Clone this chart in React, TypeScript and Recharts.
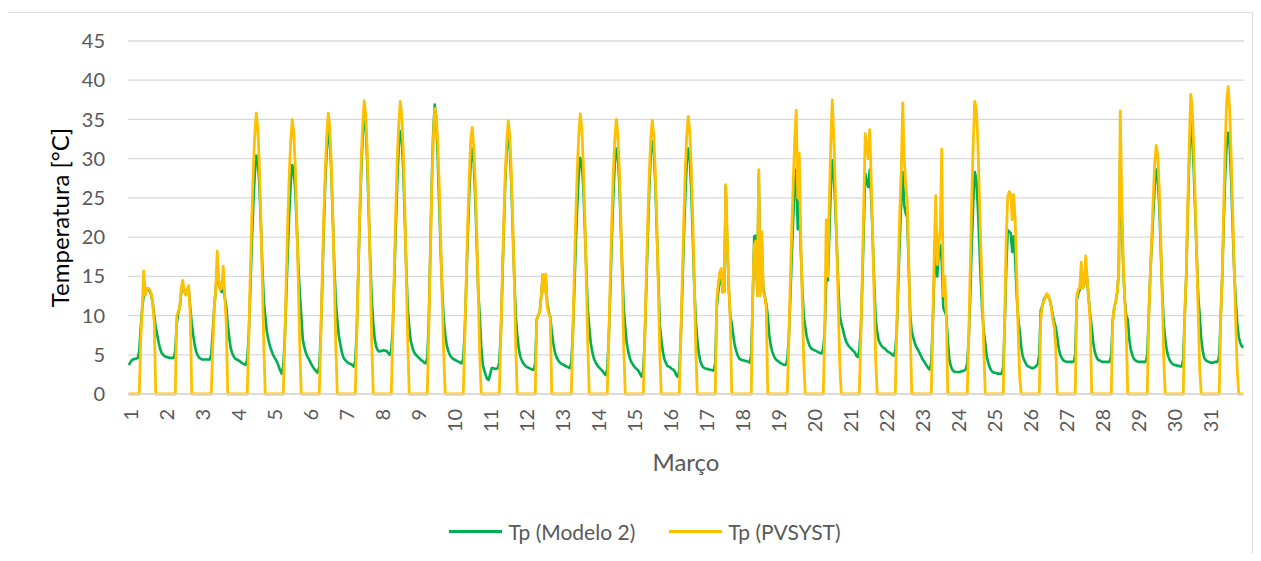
import React from 'react';
import { LineChart, Line, XAxis, YAxis, CartesianGrid, Legend } from 'recharts';

const FONT = 'Lato, "Open Sans", Arial, sans-serif';
const INK = '#595959';
const GRID = '#d9d9d9';
const GREEN = '#00B050';
const GOLD = '#FFC000';

// dias de Março (rótulos do eixo X)
const days = [
  1, 2, 3, 4, 5, 6, 7, 8, 9, 10, 11, 12, 13, 14, 15, 16,
  17, 18, 19, 20, 21, 22, 23, 24, 25, 26, 27, 28, 29, 30, 31,
];
const yTicks = [0, 5, 10, 15, 20, 25, 30, 35, 40, 45];

// Tp (Modelo 2) [°C], 24 valores horários por dia (0h..23h)
const modelo2 = [
  [3.7, 4.0, 4.3, 4.4, 4.5, 4.5, 4.6, 5.5, 8.5, 11, 12.6, 13.2, 13.3, 13.3, 13.1, 12.6, 11.5, 10, 8.5, 7.5, 6.5, 5.7, 5.2, 5.0],
  [4.8, 4.7, 4.7, 4.6, 4.6, 4.6, 4.6, 5.5, 9, 10.3, 11, 13, 13.8, 13.2, 12.7, 13, 13.2, 11, 9, 7.5, 6.2, 5.4, 4.9, 4.6],
  [4.5, 4.4, 4.4, 4.4, 4.4, 4.4, 4.4, 5, 8, 11, 13.3, 16, 14.2, 13.3, 13, 13.5, 12.3, 11.2, 8.8, 7.2, 5.8, 5.2, 4.8, 4.5],
  [4.4, 4.3, 4.2, 4.0, 3.9, 3.8, 3.7, 4.5, 7.5, 13, 19, 24, 28, 30.4, 29.8, 27, 22, 16.5, 12, 10, 8, 7, 6.2, 5.6],
  [5.1, 4.7, 4.4, 4.0, 3.5, 3.0, 2.6, 3.5, 7, 12.5, 18, 23, 27, 29.2, 28.5, 26, 21.5, 16.5, 13, 10, 7, 6, 5.3, 4.8],
  [4.5, 4.1, 3.7, 3.4, 3.1, 2.9, 2.7, 3.5, 7.5, 14, 21, 27, 31, 33.3, 32.5, 28.5, 22.5, 16.5, 12, 9.5, 7.5, 6.4, 5.4, 4.7],
  [4.4, 4.2, 4.0, 3.9, 3.8, 3.7, 3.5, 4.2, 8, 15, 22.5, 28.5, 33, 35.3, 34, 29.5, 23, 17, 12, 9, 7, 6.0, 5.6, 5.4],
  [5.5, 5.5, 5.6, 5.5, 5.5, 5.2, 5.0, 5.5, 8.5, 14.5, 21, 27, 31.5, 33.5, 32.5, 28.5, 22.5, 16, 11, 8.5, 6.8, 6.0, 5.4, 5.1],
  [4.9, 4.7, 4.5, 4.3, 4.2, 4.0, 3.9, 4.6, 9, 18, 27, 33.5, 36.9, 35, 30, 24, 18, 13, 9.5, 7.5, 6.2, 5.5, 5.0, 4.7],
  [4.5, 4.4, 4.3, 4.2, 4.1, 4.0, 3.9, 4.5, 8, 14, 20, 25.5, 29.5, 31.3, 29.5, 25, 19, 13, 10, 6, 3.8, 3.0, 2.4, 1.9],
  [1.8, 2.6, 3.3, 3.3, 3.2, 3.2, 3.3, 4, 7.5, 14, 21, 27, 31, 33, 31.5, 27, 21, 15, 10, 7.5, 5.8, 4.8, 4.3, 3.9],
  [3.7, 3.5, 3.4, 3.3, 3.2, 3.1, 3.1, 4, 9.5, 10, 10.5, 12.5, 15.2, 13.5, 14.5, 11.5, 10.5, 9.8, 8, 6.5, 5.4, 4.8, 4.4, 4.1],
  [3.9, 3.8, 3.7, 3.6, 3.5, 3.4, 3.3, 4, 7.5, 13, 19, 24, 28, 30.1, 29.5, 26.5, 21.5, 16, 11, 8.5, 6.5, 5.4, 4.6, 4.1],
  [3.8, 3.5, 3.3, 3.1, 2.9, 2.6, 2.4, 3.2, 7, 13, 19.5, 25, 29.3, 31.3, 30.5, 27, 21.5, 16, 11, 8.5, 6.5, 5.4, 4.6, 4.1],
  [3.8, 3.5, 3.3, 3.1, 2.9, 2.5, 2.2, 3, 7, 13.5, 20, 26, 30.5, 32.2, 31, 27, 21, 15, 9, 7, 5.5, 4.5, 4.0, 3.6],
  [3.5, 3.4, 3.2, 3.1, 2.9, 2.4, 2.2, 3, 7, 13, 19.5, 25, 29.5, 31.3, 30, 26, 20, 14, 9.5, 7, 5.2, 4.2, 3.7, 3.4],
  [3.3, 3.2, 3.2, 3.1, 3.1, 3.0, 3.0, 4, 11, 13, 14.5, 15, 13, 13, 26.4, 19, 13.5, 10, 9, 7.5, 6.2, 5.5, 4.9, 4.5],
  [4.4, 4.3, 4.3, 4.2, 4.2, 4.1, 4.0, 5, 12, 20.1, 20.2, 13.5, 28, 14, 19.5, 13.5, 12.5, 11.5, 10, 7.5, 6.2, 5.4, 4.9, 4.5],
  [4.3, 4.2, 4.0, 3.9, 3.8, 3.7, 3.7, 4.3, 7, 12, 17.5, 22.5, 26.5, 28.6, 21, 24.5, 18.5, 13.5, 10, 8.5, 7.3, 6.6, 6.1, 5.8],
  [5.7, 5.6, 5.5, 5.4, 5.3, 5.2, 5.2, 5.8, 8, 14.7, 14.5, 20, 26, 29.8, 28, 24, 19, 14, 10, 9, 8.3, 7.5, 6.8, 6.4],
  [6.1, 5.9, 5.7, 5.5, 5.3, 4.9, 4.7, 5.5, 8, 14, 21, 28.1, 27, 26.4, 28.6, 25, 19.5, 14, 9.5, 7.8, 6.8, 6.4, 6.1, 5.9],
  [5.8, 5.6, 5.4, 5.3, 5.2, 5.0, 4.9, 5.5, 8, 14, 19.5, 24.5, 28.3, 24, 23, 22.5, 16, 10, 8, 7.2, 6.5, 6.0, 5.7, 5.3],
  [4.9, 4.5, 4.2, 3.9, 3.6, 3.3, 3.1, 4, 9, 15, 19, 15, 18, 19, 17, 11, 10.5, 10, 7, 4.5, 3.6, 3.1, 2.9, 2.8],
  [2.8, 2.8, 2.8, 2.9, 2.9, 3.0, 3.1, 4, 7, 12.5, 19, 24.5, 28.3, 27.5, 24, 19.5, 14.5, 10.5, 8, 6.5, 4.8, 4.0, 3.4, 3.0],
  [2.8, 2.7, 2.7, 2.6, 2.6, 2.6, 2.6, 3.5, 9, 16, 20.9, 20.7, 20.5, 18.1, 20.1, 17, 12.5, 9.5, 8, 6, 4.8, 4.3, 3.9, 3.6],
  [3.5, 3.4, 3.3, 3.3, 3.4, 3.6, 3.8, 5, 10.7, 11.2, 12, 12.4, 12.6, 12.5, 12, 11.2, 10, 9.2, 8.5, 7.2, 5.8, 5.0, 4.6, 4.3],
  [4.2, 4.1, 4.1, 4.1, 4.1, 4.1, 4.1, 5, 12, 12.8, 13.3, 15, 13.5, 14, 16, 14.5, 12, 10, 8.5, 6.5, 5.4, 4.8, 4.4, 4.3],
  [4.2, 4.1, 4.1, 4.1, 4.1, 4.1, 4.1, 5, 9.4, 11, 11.8, 13, 15.5, 31, 23, 16, 12, 10, 9.5, 7, 5.7, 5.0, 4.5, 4.3],
  [4.2, 4.1, 4.1, 4.1, 4.1, 4.1, 4.1, 5, 10, 15.3, 19, 23, 26.5, 28.6, 27.5, 24, 18.5, 13, 9, 7, 5.6, 4.8, 4.3, 4.0],
  [3.8, 3.7, 3.7, 3.6, 3.6, 3.5, 3.5, 4.5, 10, 15, 23, 30, 34.9, 33, 28.5, 23, 17.5, 12.5, 10, 7, 5.5, 4.6, 4.3, 4.2],
  [4.1, 4.0, 4.0, 4.0, 4.1, 4.1, 4.1, 5, 10, 15, 22, 28, 32, 33.3, 31.5, 27, 21, 15.5, 12, 9, 7.3, 6.5, 6.1, 5.9],
];

// Tp (PVSYST) [°C], 24 valores horários por dia (0 de noite)
const pvsyst = [
  [0, 0, 0, 0, 0, 0, 0, 0, 7, 11, 15.7, 12.6, 13.5, 13.5, 13.3, 12.8, 11.5, 9, 0, 0, 0, 0, 0, 0],
  [0, 0, 0, 0, 0, 0, 0, 0, 10, 10.5, 11, 13.5, 14.5, 13, 12.6, 13.3, 13.8, 10, 0, 0, 0, 0, 0, 0],
  [0, 0, 0, 0, 0, 0, 0, 0, 6, 11, 13.5, 18.2, 14.5, 13.3, 13.5, 16.3, 12.5, 9, 0, 0, 0, 0, 0, 0],
  [0, 0, 0, 0, 0, 0, 0, 0, 7, 15, 22.5, 28.5, 33, 35.8, 34, 29.5, 23, 15, 6.5, 0, 0, 0, 0, 0],
  [0, 0, 0, 0, 0, 0, 0, 0, 6.5, 14.5, 22, 28, 32.3, 35, 33.3, 29, 22.5, 14.5, 6, 0, 0, 0, 0, 0],
  [0, 0, 0, 0, 0, 0, 0, 0, 7, 15, 22.5, 28.5, 33, 35.8, 34, 29.5, 23, 15, 6.5, 0, 0, 0, 0, 0],
  [0, 0, 0, 0, 0, 0, 0, 0, 7.5, 15.5, 23.5, 30, 34.5, 37.4, 35.5, 31, 24, 15.5, 6.5, 0, 0, 0, 0, 0],
  [0, 0, 0, 0, 0, 0, 0, 0, 7.5, 15.5, 23.5, 30, 34.5, 37.3, 35.5, 31, 24, 15.5, 6.5, 0, 0, 0, 0, 0],
  [0, 0, 0, 0, 0, 0, 0, 0, 8, 17, 26, 32.5, 36.4, 35.5, 32, 26.5, 19.5, 12, 5, 0, 0, 0, 0, 0],
  [0, 0, 0, 0, 0, 0, 0, 0, 7, 14.5, 22, 27.5, 32.5, 34, 31.5, 27, 20.5, 13, 5, 0, 0, 0, 0, 0],
  [0, 0, 0, 0, 0, 0, 0, 0, 7, 14.5, 22, 28, 32.3, 34.8, 33, 28.5, 22, 14.5, 6, 0, 0, 0, 0, 0],
  [0, 0, 0, 0, 0, 0, 0, 0, 9.5, 10, 10.5, 12.5, 15.2, 13, 15.3, 11, 10.3, 9.8, 0, 0, 0, 0, 0, 0],
  [0, 0, 0, 0, 0, 0, 0, 0, 7, 15, 22.5, 28.5, 33, 35.7, 34, 29.5, 23, 15, 6.5, 0, 0, 0, 0, 0],
  [0, 0, 0, 0, 0, 0, 0, 0, 7, 14.5, 22, 28, 32.3, 35, 33.3, 29, 22.5, 14.5, 6, 0, 0, 0, 0, 0],
  [0, 0, 0, 0, 0, 0, 0, 0, 7, 14.5, 22, 28, 32.5, 34.9, 33, 28.5, 22, 14, 5.5, 0, 0, 0, 0, 0],
  [0, 0, 0, 0, 0, 0, 0, 0, 7, 14.5, 22, 28.5, 33, 35.4, 33.5, 29, 22.5, 14.5, 6, 0, 0, 0, 0, 0],
  [0, 0, 0, 0, 0, 0, 0, 0, 12, 14, 15.5, 16, 13, 13, 26.7, 20, 14, 9.5, 0, 0, 0, 0, 0, 0],
  [0, 0, 0, 0, 0, 0, 0, 0, 13, 19, 19.5, 12.5, 28.6, 12.5, 20.7, 13, 12.5, 11, 0, 0, 0, 0, 0, 0],
  [0, 0, 0, 0, 0, 0, 0, 0, 6.5, 14, 21, 27, 32.5, 36.2, 25, 30.7, 20, 12, 4, 0, 0, 0, 0, 0],
  [0, 0, 0, 0, 0, 0, 0, 0, 8, 22.2, 15, 24, 32, 37.5, 33, 26.5, 19, 11.5, 4, 0, 0, 0, 0, 0],
  [0, 0, 0, 0, 0, 0, 0, 0, 7, 15, 24, 33.2, 31.5, 30, 33.7, 27, 20, 12, 4, 0, 0, 0, 0, 0],
  [0, 0, 0, 0, 0, 0, 0, 0, 8, 16, 23, 28.5, 37.1, 30, 26.5, 24.5, 17, 8, 0, 0, 0, 0, 0, 0],
  [0, 0, 0, 0, 0, 0, 0, 0, 9, 18, 25.3, 16.5, 19, 21, 31.2, 12.5, 15, 10.5, 0, 0, 0, 0, 0, 0],
  [0, 0, 0, 0, 0, 0, 0, 0, 7.5, 16, 25, 32, 37.3, 36.5, 32.5, 26, 19, 13, 6, 0, 0, 0, 0, 0],
  [0, 0, 0, 0, 0, 0, 0, 0, 10, 20, 25.2, 25.8, 25.5, 22.2, 25.4, 22, 15, 7.5, 2, 0, 0, 0, 0, 0],
  [0, 0, 0, 0, 0, 0, 0, 0, 9.5, 11.3, 11.8, 12.3, 12.8, 12.6, 12, 11, 9.5, 8.5, 6, 0, 0, 0, 0, 0],
  [0, 0, 0, 0, 0, 0, 0, 0, 12.5, 13.3, 13.5, 16.8, 13.5, 14, 17.6, 14.5, 12, 9, 0, 0, 0, 0, 0, 0],
  [0, 0, 0, 0, 0, 0, 0, 0, 9.4, 11, 11.8, 13, 15.5, 36.1, 25, 16.7, 12, 8, 0, 0, 0, 0, 0, 0],
  [0, 0, 0, 0, 0, 0, 0, 0, 9.9, 15, 20, 25, 29.5, 31.7, 30.5, 26, 20, 12.5, 4.5, 0, 0, 0, 0, 0],
  [0, 0, 0, 0, 0, 0, 0, 0, 10.3, 15, 24, 32, 38.2, 36.5, 31, 24.5, 17.5, 10, 3, 0, 0, 0, 0, 0],
  [0, 0, 0, 0, 0, 0, 0, 0, 10, 15, 24, 32, 37.5, 39.2, 36, 30, 23, 16, 9, 3, 0, 0, 0, 0],
];

// one row per hour; the point sits mid-hour like Excel's category slots
const data = days.flatMap((_, d) =>
  modelo2[d].map((v, h) => ({ t: d * 24 + h + 0.5, modelo2: v, pvsyst: pvsyst[d][h] }))
);
const dayStarts = days.map((_, d) => d * 24);

const DayTick = (props: any) => {
  const { x, y, payload } = props;
  const cx = x + 1.5;
  return (
    <text
      x={cx}
      y={y}
      transform={`rotate(-90 ${cx} ${y})`}
      textAnchor="end"
      dominantBaseline="central"
      fill={INK}
      fontSize={20}
      fontFamily={FONT}
    >
      {days[Math.round(payload.value / 24)]}
    </text>
  );
};

const renderYLabel = (props: any) => {
  const vb = props.viewBox;
  const x = vb.x + 59;
  const y = vb.y + vb.height / 2;
  return (
    <text
      x={x}
      y={y}
      transform={`rotate(-90 ${x} ${y})`}
      textAnchor="middle"
      dominantBaseline="central"
      fill="#000"
      fontSize={24}
      fontFamily={FONT}
    >
      Temperatura [°C]
    </text>
  );
};

const renderXLabel = (props: any) => {
  const vb = props.viewBox;
  return (
    <text
      x={vb.x + vb.width / 2}
      y={vb.y + 67}
      textAnchor="middle"
      dominantBaseline="central"
      fill={INK}
      fontSize={24}
      fontFamily={FONT}
    >
      Março
    </text>
  );
};

const renderLegend = () => (
  <div
    style={{
      height: 30,
      display: 'flex',
      justifyContent: 'center',
      alignItems: 'center',
      paddingLeft: 29,
      fontFamily: FONT,
      fontSize: 21,
      color: INK,
    }}
  >
    <span style={{ display: 'inline-block', width: 53, height: 3, background: GREEN, marginRight: 6 }} />
    <span>Tp (Modelo 2)</span>
    <span style={{ display: 'inline-block', width: 53, height: 3, background: GOLD, marginLeft: 34, marginRight: 6 }} />
    <span>Tp (PVSYST)</span>
  </div>
);

export default function App() {
  return (
    <div style={{ position: 'relative', width: 1261, height: 561, margin: -8, background: '#fff', overflow: 'hidden' }}>
      <div
        style={{
          position: 'absolute',
          left: 7,
          top: 12,
          width: 1246,
          height: 560,
          border: `1px solid ${GRID}`,
          boxSizing: 'border-box',
        }}
      />
      <div style={{ position: 'absolute', left: 0, top: 0 }}>
        <LineChart width={1261} height={561} data={data} margin={{ top: 41, right: 17, left: 0, bottom: 15 }}>
          <CartesianGrid vertical={false} stroke={GRID} strokeWidth={1.3} />
          <XAxis
            dataKey="t"
            type="number"
            domain={[0, 744]}
            ticks={dayStarts}
            interval={0}
            tickSize={0}
            tickMargin={15}
            tickLine={false}
            axisLine={{ stroke: GRID, strokeWidth: 1.3 }}
            tick={<DayTick />}
            height={122}
            label={renderXLabel}
          />
          <YAxis
            type="number"
            domain={[0, 45]}
            ticks={yTicks}
            interval={0}
            width={128}
            tickSize={0}
            tickMargin={23}
            axisLine={false}
            tickLine={false}
            tick={{ fill: INK, fontSize: 20, fontFamily: FONT }}
            label={renderYLabel}
          />
          <Legend verticalAlign="bottom" content={renderLegend} wrapperStyle={{ left: 0, width: 1261 }} />
          <Line
            type="linear"
            dataKey="modelo2"
            name="Tp (Modelo 2)"
            stroke={GREEN}
            strokeWidth={2.6}
            strokeLinejoin="round"
            dot={false}
            isAnimationActive={false}
          />
          <Line
            type="linear"
            dataKey="pvsyst"
            name="Tp (PVSYST)"
            stroke={GOLD}
            strokeWidth={2.8}
            strokeLinejoin="round"
            dot={false}
            isAnimationActive={false}
          />
        </LineChart>
      </div>
    </div>
  );
}
